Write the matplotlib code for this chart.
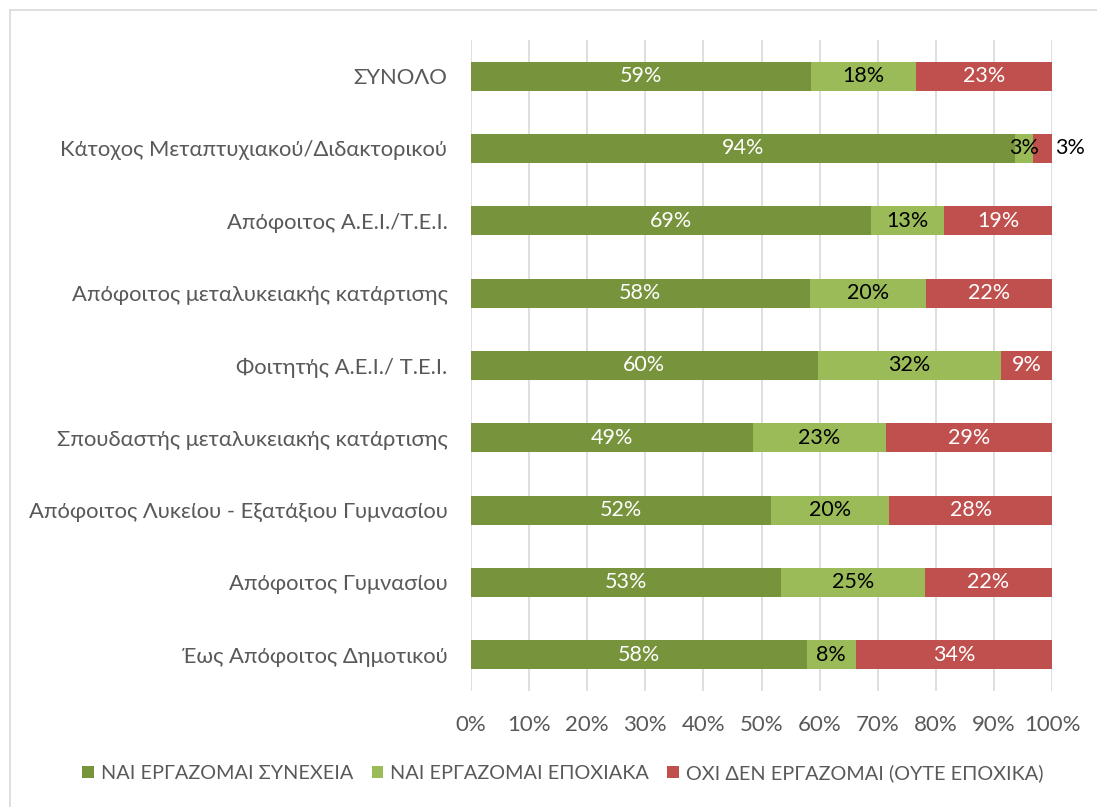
import matplotlib
matplotlib.use('Agg')
import matplotlib.pyplot as plt
from matplotlib.lines import Line2D
from matplotlib.patches import Patch

# Δεδομένα (ποσοστά, από πάνω προς τα κάτω)
katigories = [
    "ΣΥΝΟΛΟ",
    "Κάτοχος Μεταπτυχιακού/Διδακτορικού",
    "Απόφοιτος Α.Ε.Ι./Τ.Ε.Ι.",
    "Απόφοιτος μεταλυκειακής κατάρτισης",
    "Φοιτητής Α.Ε.Ι./ Τ.Ε.Ι.",
    "Σπουδαστής μεταλυκειακής κατάρτισης",
    "Απόφοιτος Λυκείου - Εξατάξιου Γυμνασίου",
    "Απόφοιτος Γυμνασίου",
    "Έως Απόφοιτος Δημοτικού",
]
synexeia = [58.6, 93.6, 68.8, 58.3, 59.7, 48.6, 51.6, 53.3, 57.8]
epoxiaka = [18.0, 3.1, 12.6, 20.0, 31.6, 22.8, 20.4, 24.8, 8.4]
oxi = [23.4, 3.3, 18.6, 21.7, 8.7, 28.6, 28.0, 21.9, 33.8]
seires = ["ΝΑΙ ΕΡΓΑΖΟΜΑΙ ΣΥΝΕΧΕΙΑ", "ΝΑΙ ΕΡΓΑΖΟΜΑΙ ΕΠΟΧΙΑΚΑ",
          "ΟΧΙ ΔΕΝ ΕΡΓΑΖΟΜΑΙ (ΟΥΤΕ ΕΠΟΧΙΚΑ)"]
x_ticks = list(range(0, 101, 10))

XRWMATA = ['#77933C', '#9BBB59', '#C0504D']
XRWMA_KEIMENOU = ['white', 'black', 'white']
GKRI = '#595959'

plt.rcParams['font.family'] = ['Lato', 'DejaVu Sans']

W, H = 1097, 807
fig = plt.figure(figsize=(W / 100, H / 100), dpi=100)
ax = fig.add_axes([471 / W, 1 - 691 / H, (1052 - 471) / W, (691 - 40) / H])

y = list(range(len(katigories)))
left = [0.0] * len(katigories)
for s, (vals, col, tcol) in enumerate(zip([synexeia, epoxiaka, oxi], XRWMATA, XRWMA_KEIMENOU)):
    bars = ax.barh(y, vals, left=left, height=0.4, color=col, label=seires[s], zorder=3)
    for i, (b, v) in enumerate(zip(bars, vals)):
        cx = left[i] + v / 2
        c = tcol
        ha = 'center'
        # μικρή κόκκινη τιμή: η ετικέτα έξω από τη μπάρα
        if s == 2 and v < 5:
            cx = left[i] + v + 0.6
            c = 'black'
            ha = 'left'
        ax.text(cx, i, f"{v:.0f}%", ha=ha, va='center', color=c,
                fontsize=15.5, zorder=4, clip_on=False)
    left = [l + v for l, v in zip(left, vals)]

ax.set_xlim(0, 100)
ax.set_ylim(len(katigories) - 0.5, -0.5)
ax.set_xticks(x_ticks)
ax.set_xticklabels([f"{t}%" for t in x_ticks])
ax.set_yticks(y)
ax.set_yticklabels(katigories)
ax.tick_params(axis='both', length=0, colors=GKRI)
ax.tick_params(axis='x', pad=17, labelsize=16)
ax.tick_params(axis='y', pad=17, labelsize=15.8)
ax.grid(axis='x', color='#D9D9D9', linewidth=1.2, zorder=0)
for sp in ax.spines.values():
    sp.set_visible(False)

handles = [Patch(facecolor=c, label=l) for c, l in zip(XRWMATA, seires)]
leg = fig.legend(handles=handles, loc='center', bbox_to_anchor=(563 / W, 1 - 773 / H),
                 ncol=3, frameon=False, fontsize=14.3, handlelength=0.6, handleheight=0.6,
                 handletextpad=0.35, columnspacing=0.9)
for t in leg.get_texts():
    t.set_color(GKRI)

# περίγραμμα γραφήματος (πάνω και αριστερά)
fig.add_artist(Line2D([10 / W, 1], [1 - 10 / H, 1 - 10 / H], color='#D9D9D9', lw=1.2))
fig.add_artist(Line2D([10 / W, 10 / W], [0, 1 - 10 / H], color='#D9D9D9', lw=1.2))

fig.savefig('out.png', dpi=100)
